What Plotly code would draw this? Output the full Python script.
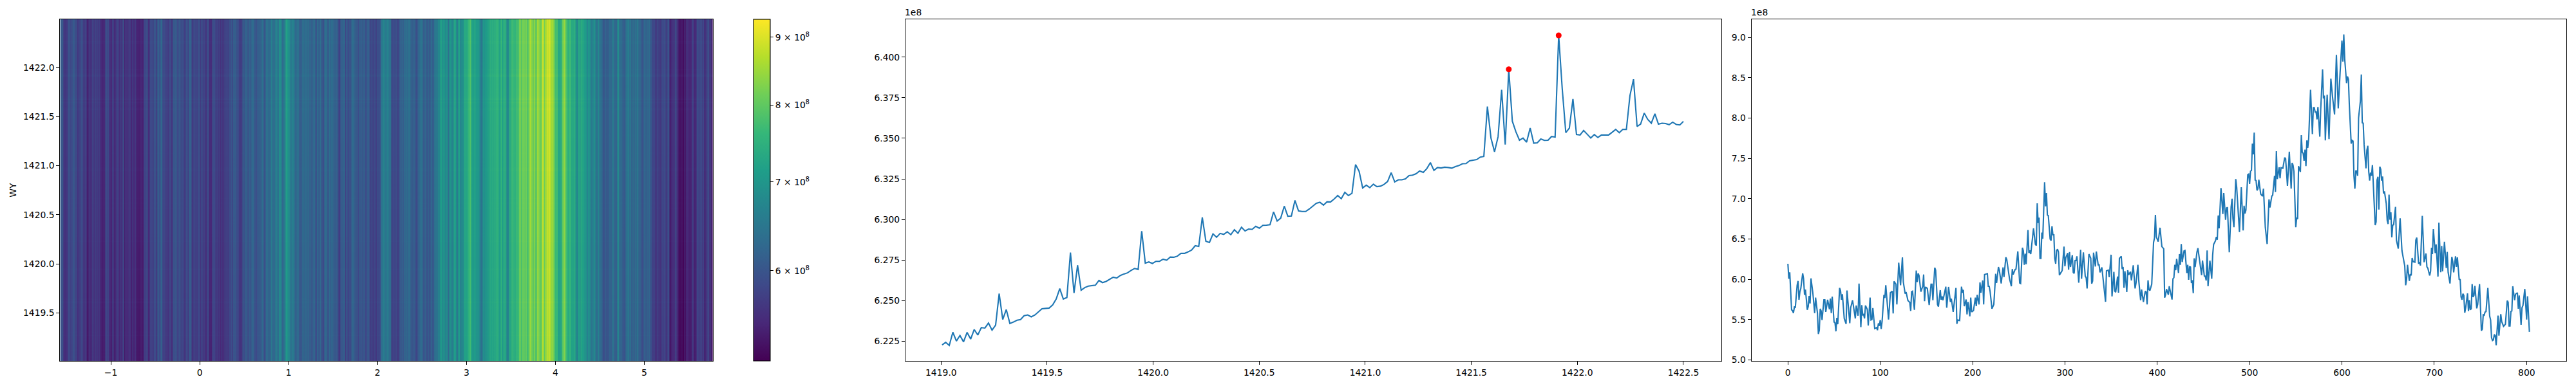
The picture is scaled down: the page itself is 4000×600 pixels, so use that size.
import numpy as np
import plotly.graph_objects as go

# values, in units of 1e8
wy_start = 1419.005
wy_end = 1422.5
row_profile = [
    6.2227, 6.2243, 6.2224, 6.2305, 6.2251, 6.2285, 6.2246, 6.2304, 6.2263, 6.2322, 6.2288, 6.2334, 6.2331, 6.2362, 6.2318, 6.2349,
    6.2543, 6.2384, 6.2445, 6.2359, 6.2368, 6.2379, 6.2383, 6.2407, 6.2412, 6.2400, 6.2411, 6.2429, 6.2450, 6.2452, 6.2454, 6.2473,
    6.2510, 6.2574, 6.2510, 6.2519, 6.2796, 6.2547, 6.2718, 6.2564, 6.2580, 6.2589, 6.2593, 6.2595, 6.2624, 6.2611, 6.2618, 6.2632,
    6.2644, 6.2639, 6.2655, 6.2664, 6.2671, 6.2686, 6.2698, 6.2692, 6.2928, 6.2731, 6.2738, 6.2729, 6.2742, 6.2742, 6.2755, 6.2749,
    6.2768, 6.2767, 6.2774, 6.2791, 6.2791, 6.2800, 6.2812, 6.2838, 6.2834, 6.3013, 6.2866, 6.2858, 6.2911, 6.2890, 6.2914, 6.2908,
    6.2924, 6.2906, 6.2937, 6.2915, 6.2952, 6.2929, 6.2941, 6.2939, 6.2958, 6.2946, 6.2964, 6.2965, 6.2968, 6.3047, 6.2990, 6.3008,
    6.3082, 6.3020, 6.3021, 6.3117, 6.3053, 6.3049, 6.3049, 6.3064, 6.3082, 6.3100, 6.3106, 6.3088, 6.3109, 6.3108, 6.3126, 6.3147,
    6.3128, 6.3167, 6.3147, 6.3161, 6.3338, 6.3297, 6.3194, 6.3211, 6.3196, 6.3217, 6.3202, 6.3205, 6.3216, 6.3234, 6.3288, 6.3231,
    6.3244, 6.3244, 6.3250, 6.3270, 6.3273, 6.3282, 6.3299, 6.3290, 6.3313, 6.3350, 6.3302, 6.3320, 6.3317, 6.3322, 6.3320, 6.3316,
    6.3325, 6.3332, 6.3343, 6.3344, 6.3361, 6.3366, 6.3369, 6.3384, 6.3388, 6.3696, 6.3502, 6.3417, 6.3510, 6.3799, 6.3461, 6.3925,
    6.3605, 6.3540, 6.3488, 6.3501, 6.3476, 6.3563, 6.3470, 6.3472, 6.3496, 6.3487, 6.3488, 6.3511, 6.3508, 6.4134, 6.3805, 6.3535,
    6.3563, 6.3742, 6.3523, 6.3520, 6.3548, 6.3525, 6.3502, 6.3523, 6.3505, 6.3520, 6.3520, 6.3520, 6.3537, 6.3555, 6.3534, 6.3555,
    6.3555, 6.3763, 6.3864, 6.3573, 6.3588, 6.3655, 6.3616, 6.3593, 6.3651, 6.3587, 6.3593, 6.3591, 6.3584, 6.3599, 6.3585, 6.3582,
    6.3604,
]

col_index = [
    0, 1, 2, 3, 4, 5, 6, 7, 8, 10, 11, 12, 13, 14, 16, 17, 18, 19, 21, 22, 23, 24, 25, 27, 29, 30, 32, 33, 34, 35, 36, 37, 39, 40, 41, 43, 45, 46, 47, 48,
    50, 51, 52, 53, 54, 56, 57, 58, 59, 61, 63, 64, 67, 68, 70, 73, 74, 76, 77, 79, 80, 81, 82, 83, 84, 86, 87, 89, 90, 91, 92, 94, 96, 97, 98, 99,
    100, 101, 102, 104, 105, 106, 109, 111, 113, 114, 115, 117, 118, 120, 122, 124, 125, 127, 128, 130, 132, 133, 134, 135, 137, 139, 140, 141, 142, 144, 146, 147, 148, 149,
    151, 153, 155, 156, 157, 159, 160, 162, 163, 165, 166, 167, 168, 171, 172, 174, 176, 177, 179, 182, 183, 184, 186, 188, 189, 190, 191, 193, 194, 195, 197, 198, 199,
    201, 203, 204, 205, 207, 208, 209, 211, 212, 213, 216, 217, 218, 219, 221, 223, 225, 226, 228, 229, 231, 233, 234, 236, 237, 240, 242, 243, 244, 246, 247, 249,
    251, 252, 254, 255, 256, 257, 258, 260, 261, 262, 263, 266, 268, 269, 270, 271, 272, 273, 274, 275, 276, 278, 279, 280, 281, 282, 284, 285, 286, 287, 288, 289, 290, 291, 292, 293, 294, 295, 297, 299,
    300, 301, 303, 304, 305, 306, 308, 309, 310, 311, 312, 313, 315, 317, 318, 320, 322, 323, 324, 326, 328, 329, 330, 331, 333, 334, 336, 337, 338, 340, 341, 344, 345, 347, 348,
    350, 351, 353, 354, 355, 357, 358, 359, 361, 362, 363, 364, 365, 367, 368, 369, 371, 372, 374, 376, 377, 379, 380, 382, 383, 385, 387, 388, 389, 390, 391, 392, 394, 396, 397, 398, 399,
    401, 403, 405, 407, 408, 409, 410, 412, 413, 416, 417, 418, 419, 420, 421, 423, 424, 425, 426, 427, 429, 430, 432, 433, 434, 435, 436, 437, 438, 439, 440, 441, 443, 444, 448, 449,
    451, 452, 453, 454, 455, 457, 459, 460, 461, 463, 464, 465, 466, 467, 469, 471, 472, 474, 475, 476, 478, 480, 481, 482, 483, 485, 486, 489, 491, 493, 494, 495, 496, 498, 499,
    500, 501, 502, 503, 504, 505, 506, 507, 508, 509, 510, 512, 514, 515, 516, 517, 519, 521, 522, 524, 525, 527, 528, 529, 530, 532, 533, 534, 536, 538, 539, 541, 543, 545, 546, 547, 548,
    550, 551, 552, 553, 555, 556, 557, 558, 559, 560, 561, 562, 563, 564, 566, 568, 569, 570, 571, 572, 573, 574, 576, 577, 579, 580, 581, 582, 584, 586, 588, 590, 592, 594, 596, 598,
    600, 601, 602, 603, 605, 606, 607, 608, 610, 611, 612, 613, 614, 615, 616, 617, 618, 620, 621, 622, 623, 624, 626, 627, 628, 629, 630, 631, 632, 633, 635, 636, 637, 638, 639, 640, 641, 642, 643, 644, 645, 646, 648, 649,
    650, 651, 652, 653, 654, 655, 656, 658, 659, 661, 663, 665, 668, 669, 670, 671, 673, 674, 675, 676, 677, 679, 680, 681, 683, 684, 685, 687, 689, 691, 692, 693, 695, 696, 697, 698, 699,
    701, 702, 704, 705, 707, 708, 709, 711, 713, 714, 715, 717, 719, 720, 721, 723, 724, 725, 727, 728, 729, 730, 731, 732, 733, 734, 736, 737, 738, 739, 740, 741, 742, 743, 744, 746, 747, 749,
    751, 752, 753, 754, 755, 756, 758, 760, 761, 762, 763, 764, 765, 766, 767, 769, 770, 772, 773, 775, 777, 779, 780, 781, 782, 783, 784, 785, 787, 788, 790, 791, 792, 794, 795, 796, 798,
    800, 801, 803,
]
col_profile = [
    6.193, 6.007, 6.087, 5.901, 5.621, 5.613, 5.581, 5.656, 5.648, 5.927, 5.980, 5.746, 5.847, 5.887, 6.074, 6.007, 5.808, 5.874, 5.621, 5.661, 5.794, 5.701, 6.012, 5.834, 5.581, 5.773, 5.581, 5.321, 5.369, 5.635, 5.608, 5.496, 5.746, 5.746, 5.595, 5.746, 5.629, 5.762, 5.581, 5.786,
    5.470, 5.462, 5.355, 5.523, 5.443, 5.893, 5.861, 5.746, 5.815, 5.515, 5.448, 5.861, 5.456, 5.648, 5.741, 5.515, 5.675, 5.549, 5.948, 5.408, 5.680, 5.560, 5.565, 5.515, 5.675, 5.627, 5.427, 5.773, 5.496, 5.502, 5.643, 5.390, 5.401, 5.369, 5.454, 5.422,
    5.496, 5.385, 5.475, 5.808, 5.768, 5.927, 5.502, 5.834, 5.853, 5.576, 5.975, 5.940, 5.688, 6.206, 5.927, 6.273, 5.967, 5.821, 5.842, 5.736, 5.714, 5.608, 5.847, 5.853, 5.621, 6.108, 5.967, 6.074, 6.047, 5.847, 5.914, 6.060, 5.728, 5.906,
    5.887, 5.682, 5.940, 5.940, 5.741, 6.145, 6.113, 5.688, 5.661, 5.866, 5.746, 5.789, 5.741, 5.909, 5.648, 5.906, 5.720, 5.760, 5.595, 5.893, 5.448, 5.496, 5.488, 5.909, 5.834, 5.869, 5.667, 5.749, 5.565, 5.720, 5.542, 5.773, 5.595,
    5.613, 5.773, 5.667, 5.808, 5.688, 5.962, 5.834, 5.986, 5.688, 6.060, 6.071, 5.914, 5.914, 5.847, 5.635, 5.688, 6.068, 5.954, 6.153, 6.113, 5.948, 6.148, 6.028, 6.273, 6.246, 6.007, 5.914, 6.127, 6.060, 6.121, 6.127, 6.347,
    5.954, 5.948, 6.393, 6.353, 6.180, 6.318, 6.188, 6.611, 6.326, 6.358, 6.313, 6.632, 6.433, 6.419, 6.943, 6.699, 6.765, 6.260, 6.260, 6.579, 6.504, 7.204, 6.906, 7.071, 6.797, 6.792, 6.499, 6.480, 6.659, 6.552, 6.552, 6.260, 6.193, 6.358, 6.374, 6.339, 6.052, 6.073, 6.108, 6.406,
    6.161, 6.268, 6.326, 6.119, 6.339, 6.153, 6.300, 6.087, 6.073, 6.233, 6.233, 6.286, 5.959, 6.366, 6.007, 6.334, 6.039, 6.020, 5.887, 6.313, 6.260, 5.946, 5.980, 6.331, 6.159, 6.345, 6.180, 6.180, 6.087, 6.148, 6.034, 5.722, 6.105, 6.113, 6.026,
    6.305, 5.789, 6.092, 5.853, 5.840, 6.034, 5.834, 6.260, 6.286, 6.127, 6.153, 5.895, 6.100, 5.842, 6.113, 6.055, 6.095, 5.986, 6.175, 5.887, 5.954, 6.180, 5.980, 5.741, 5.874, 5.720, 5.853, 5.842, 5.688, 5.988, 5.874, 5.861, 5.940, 6.459, 6.512, 6.800, 6.526,
    6.467, 6.640, 6.406, 6.379, 5.773, 5.808, 5.879, 5.808, 5.914, 5.749, 6.007, 6.020, 6.180, 6.113, 6.254, 6.079, 6.313, 6.180, 6.438, 6.215, 6.353, 6.358, 6.079, 6.180, 5.994, 6.161, 6.153, 5.954, 5.988, 5.829, 6.260, 6.153, 6.340, 6.387, 6.052, 6.233,
    6.039, 6.039, 5.986, 6.358, 5.914, 6.233, 6.007, 6.300, 6.433, 6.478, 6.526, 6.491, 6.792, 6.632, 7.132, 6.810, 7.071, 6.739, 6.885, 6.893, 6.334, 6.898, 7.000, 6.752, 6.646, 7.244, 7.143, 6.587, 7.143, 6.606, 6.912, 6.818, 6.858, 7.297, 7.305,
    7.183, 7.342, 7.350, 7.683, 7.550, 7.821, 7.231, 7.225, 7.103, 7.124, 7.236, 7.058, 7.031, 7.124, 6.832, 6.646, 6.438, 6.991, 6.890, 7.031, 7.045, 7.284, 7.084, 7.590, 7.244, 7.390, 7.252, 7.385, 7.377, 7.510, 7.497, 7.159, 7.582, 7.124, 7.444, 7.417, 7.337,
    6.646, 6.765, 6.747, 7.404, 7.332, 7.789, 7.577, 7.563, 7.470, 7.608, 7.404, 7.723, 7.630, 7.749, 8.350, 7.801, 8.130, 8.130, 8.075, 8.075, 7.984, 8.137, 7.770, 8.106, 8.604, 8.243, 8.280, 7.724, 8.289, 7.739, 8.488, 8.243, 8.045, 8.784, 8.121, 8.564,
    8.961, 8.701, 9.037, 8.732, 8.433, 8.516, 8.481, 8.162, 7.683, 7.723, 7.715, 7.284, 7.124, 7.350, 7.342, 7.284, 8.002, 8.215, 8.540, 7.941, 7.936, 7.670, 7.377, 7.603, 7.656, 7.337, 7.225, 7.324, 7.284, 7.417, 6.965, 6.672, 6.712, 7.231, 7.271, 6.866, 7.398, 7.364, 7.225, 7.276, 7.066, 7.092, 6.938, 6.731,
    6.686, 7.050, 6.739, 6.832, 6.521, 6.672, 6.678, 6.898, 6.486, 6.380, 6.757, 6.353, 6.167, 5.927, 6.002, 6.180, 5.981, 6.066, 6.047, 6.265, 6.220, 6.212, 6.486, 6.518, 6.201, 6.207, 6.172, 6.787, 6.212, 6.321, 6.154, 6.140, 6.047, 6.100, 6.393, 6.313, 6.624,
    6.326, 6.433, 6.034, 6.704, 6.087, 6.414, 6.100, 6.465, 6.140, 6.340, 6.087, 5.949, 6.279, 6.220, 6.087, 6.286, 6.154, 6.273, 5.994, 6.002, 5.781, 5.747, 5.821, 5.800, 5.587, 5.648, 5.826, 5.608, 5.741, 5.621, 5.635, 5.941, 5.781, 5.800, 5.919, 5.640, 5.688, 5.941,
    5.363, 5.382, 5.560, 5.555, 5.595, 5.600, 5.893, 5.542, 5.496, 5.276, 5.241, 5.249, 5.316, 5.302, 5.183, 5.550, 5.302, 5.568, 5.475, 5.417, 5.443, 5.736, 5.715, 5.422, 5.422, 5.603, 5.608, 5.914, 5.741, 5.816, 5.834, 5.635, 5.800, 5.435, 5.648, 5.675, 5.880,
    5.502, 5.789, 5.348,
]

heat_x_start = -1.57
heat_x_end = 5.77
colorbar_ticks = [6e8, 7e8, 8e8, 9e8]
colorbar_labels = ['6 × 10<sup>8</sup>', '7 × 10<sup>8</sup>', '8 × 10<sup>8</sup>', '9 × 10<sup>8</sup>']
z_min = 5.13e8
z_max = 9.286e8

W = 4000
H = 600
FONT = dict(family='DejaVu Sans', size=13.9, color='black')


def xdom(a, b):
    return [a / W, b / W]


def ydom(top, bottom):
    return [1 - bottom / H, 1 - top / H]


wy = np.linspace(wy_start, wy_end, len(row_profile))
rows = np.array(row_profile)
cols = np.array(col_profile)
index = np.array(col_index)
heat_x = heat_x_start + (index + 0.5) * (heat_x_end - heat_x_start) / 804

# the picture is close to its two profiles multiplied together
z = np.log10(np.outer(rows / rows.mean(), cols) * 1e8)

peaks = np.sort(np.argsort(rows)[-2:])

fig = go.Figure()

fig.add_trace(go.Heatmap(
    x=heat_x, y=wy, z=z, colorscale='Viridis',
    zmin=np.log10(z_min), zmax=np.log10(z_max),
    xaxis='x', yaxis='y', showscale=True,
    colorbar=dict(
        x=1170 / W, xanchor='left', xpad=0,
        y=1 - 30 / H, yanchor='top', ypad=0,
        lenmode='fraction', len=531.4 / H,
        thicknessmode='pixels', thickness=26,
        outlinecolor='black', outlinewidth=1.1,
        tickmode='array', tickvals=np.log10(colorbar_ticks), ticktext=colorbar_labels,
        ticks='outside', ticklen=5, tickwidth=1.1, tickcolor='black',
        tickfont=FONT,
    ),
))

fig.add_trace(go.Scatter(x=wy, y=rows, mode='lines', line=dict(color='#1f77b4', width=2.1),
                         xaxis='x2', yaxis='y2', showlegend=False))
fig.add_trace(go.Scatter(x=wy[peaks], y=rows[peaks], mode='markers',
                         marker=dict(color='red', size=9), xaxis='x2', yaxis='y2', showlegend=False))
fig.add_trace(go.Scatter(x=index, y=cols, mode='lines', line=dict(color='#1f77b4', width=2.1),
                         xaxis='x3', yaxis='y3', showlegend=False))

axis_style = dict(showline=True, mirror=True, linecolor='black', linewidth=1.1, ticks='outside',
                  ticklen=5, tickwidth=1.1, tickcolor='black', showgrid=False, zeroline=False,
                  tickfont=FONT, automargin=False)

fig.update_layout(
    template='none',
    width=W, height=H,
    margin=dict(l=0, r=0, t=0, b=0),
    paper_bgcolor='white', plot_bgcolor='white',
    font=FONT,
    showlegend=False,
    xaxis=dict(domain=xdom(93.4, 1106.7), range=[heat_x_start, heat_x_end], anchor='y', dtick=1, tick0=0, **axis_style),
    yaxis=dict(domain=ydom(30, 561.4), range=[1419.01, 1422.49], anchor='x', dtick=0.5, tick0=1419.5, tickformat='.1f',
               title=dict(text='WY', font=FONT, standoff=7), **axis_style),
    xaxis2=dict(domain=xdom(1406, 2672.6), range=[1418.832, 1422.678], anchor='y2', dtick=0.5, tick0=1419, tickformat='.1f', **axis_style),
    yaxis2=dict(domain=ydom(30, 561.4), range=[6.2127, 6.4233], anchor='x2', dtick=0.025, tick0=6.225, tickformat='.3f', **axis_style),
    xaxis3=dict(domain=xdom(2719.6, 3985), range=[-39.5, 843], anchor='y3', dtick=100, tick0=0, **axis_style),
    yaxis3=dict(domain=ydom(30, 561.4), range=[4.985, 9.225], anchor='x3', dtick=0.5, tick0=5, tickformat='.1f', **axis_style),
    annotations=[
        dict(text='1e8', xref='paper', yref='paper', x=1406 / W, y=1 - 28 / H, xanchor='left', yanchor='bottom',
             showarrow=False, font=FONT, xshift=-2, borderpad=0),
        dict(text='1e8', xref='paper', yref='paper', x=2719.6 / W, y=1 - 28 / H, xanchor='left', yanchor='bottom',
             showarrow=False, font=FONT, xshift=-2, borderpad=0),
    ],
)

# the browser's default page margin would shift the whole figure
fig.write_html("out.html", config={'displayModeBar': False}, post_script="document.body.style.margin='0';")
